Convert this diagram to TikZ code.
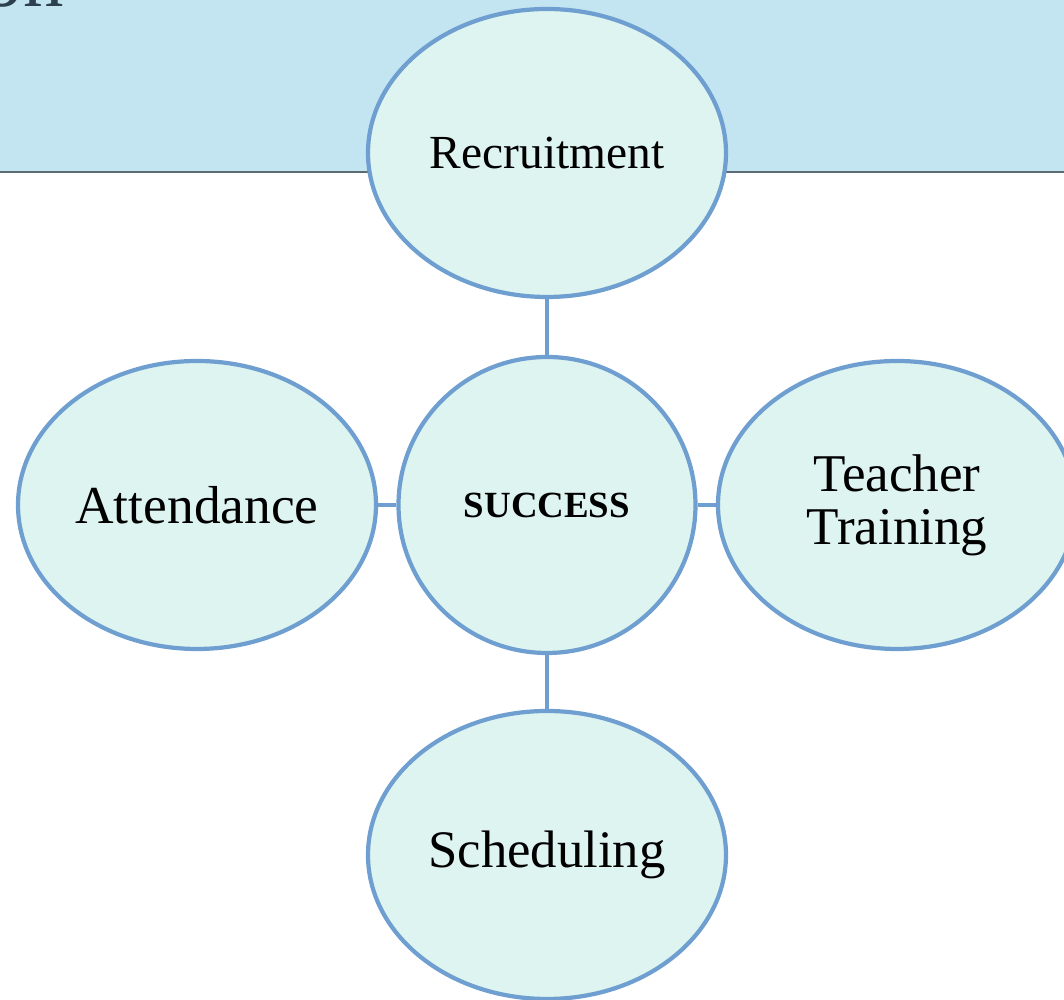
\documentclass[tikz,border=0pt]{standalone}
\usepackage{fontspec}
\setmainfont{Liberation Serif}
\usepackage{tikz}
\usetikzlibrary{shapes.geometric, positioning}
\definecolor{bandblue}{HTML}{C2E5F1}
\definecolor{bandline}{HTML}{5A6B73}
\definecolor{titlegray}{HTML}{2C4050}
\definecolor{bubblefill}{HTML}{DDF4F0}
\definecolor{bubbleedge}{HTML}{6F9FD0}

\begin{document}
\begin{tikzpicture}[
        bubble/.style={ellipse, draw=bubbleedge, fill=bubblefill, line width=1.2pt,
            minimum width=3.58cm, minimum height=2.88cm, inner sep=0pt,
            align=center, font=\fontsize{15.1}{15}\selectfont},
        hub/.style={bubble, minimum width=2.97cm, minimum height=2.96cm,
            font=\fontsize{10.5}{12}\selectfont\bfseries},
        link/.style={draw=bubbleedge, line width=1.2pt}
    ]

        % Khung hình
        \clip (0,0) rectangle (10.64,-10);

        % Dải tiêu đề
        \fill[bandblue] (0,0) rectangle (10.64,-1.72);
        \draw[bandline, line width=0.6pt] (0,-1.72) -- (10.64,-1.72);
        \node[anchor=base west, inner sep=0pt, text=titlegray, font=\fontsize{23}{26}\selectfont] (title) at (-0.18,-0.07) {on};

        % Các hình elip
        \node[hub] (success) at (5.47,-5.05) {SUCCESS};
        \node[bubble, font=\fontsize{13.5}{15}\selectfont] (recruit) at (5.47,-1.53) {Recruitment};
        \node[bubble, font=\fontsize{15.2}{15}\selectfont] (attend) at (1.97,-5.05) {Attendance};
        \node[bubble] (training) at (8.97,-5.05) {Teacher\\Training};
        \node[bubble, font=\fontsize{15}{15}\selectfont] (schedule) at (5.47,-8.55) {Scheduling};

        % Các đường nối
        \draw[link] (recruit) -- (success);
        \draw[link] (attend) -- (success);
        \draw[link] (success) -- (training);
        \draw[link] (success) -- (schedule);

\end{tikzpicture}
\end{document}
